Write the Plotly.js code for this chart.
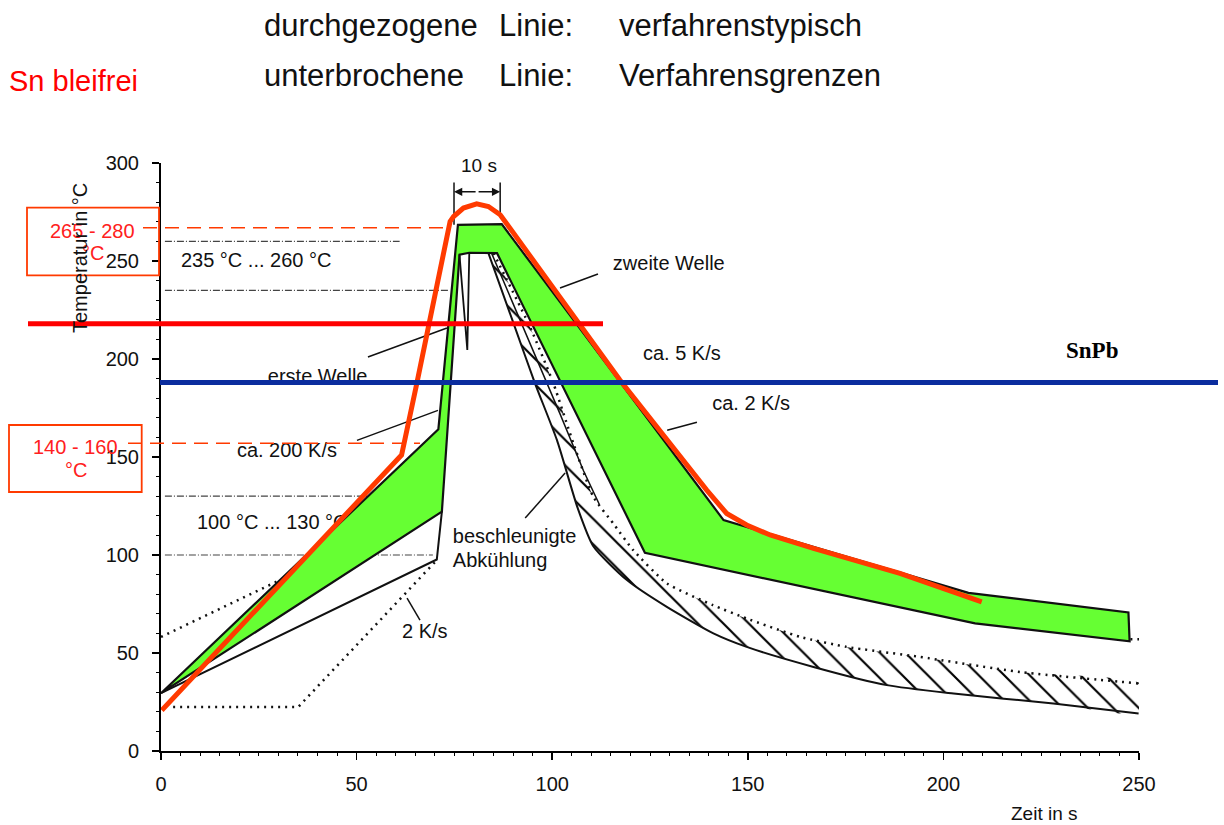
<!DOCTYPE html>
<html><head><meta charset="utf-8">
<script src="https://cdn.plot.ly/plotly-3.0.1.min.js"></script>
<style>html,body{margin:0;padding:0;background:#fff}</style>
</head><body><div id="chart" style="width:1224px;height:825px"></div>
<script>
// ---------------- data (time in s, temperature in °C) ----------------
const xTickStep = 50, yTickStep = 50;

// Sn bleifrei (red) measured profile
const snTime = [0.2, 61.5, 65.4, 68.8, 72.2, 73.9, 74.8, 77.3, 80.7, 83.7, 86.7, 117.3, 139.5, 144.6, 149.7, 155.7, 166.8, 188.9, 209.8];
const snTemp = [20.8, 151, 187.6, 221.7, 255.7, 270.2, 272.7, 277, 279.2, 277.8, 273.6, 189.3, 133.1, 121.2, 115.3, 110.2, 103.4, 90.6, 76.1];

// green process window (closed outline)
const bandTime = [0, 70.9, 75.9, 87.1, 143.8, 206.4, 247.3, 247.6, 208.1, 123.7, 85.9, 78.8, 76.3, 71.8, 0];
const bandTemp = [29.5, 164.1, 268.4, 268.8, 117.8, 80.7, 70.7, 56.0, 65.1, 101.1, 254.0, 254.2, 253.2, 122.1, 29.5];

// first-wave spike
const spikeTime = [76.3, 78.3, 78.8];
const spikeTemp = [253.2, 204.6, 254.2];

// lower heating limit (solid)
const lowHeatTime = [0, 70.5, 71.8];
const lowHeatTemp = [29.5, 97.7, 122.1];

// preheat limits (dotted)
const upPreTime = [0, 30.4];
const upPreTemp = [58.2, 87.2];
const lowPreTime = [3.1, 35.1, 70.5];
const lowPreTemp = [22.5, 22.5, 97.4];
const tailTime = [247.8, 250.8];
const tailTemp = [57, 57];

// accelerated cooling (beschleunigte Abkühlung)
const accUpTime = [85, 94.3, 100.3, 105.4, 110.5, 115.6, 120.7, 129.3, 141.1, 149.7, 163.4, 175.3, 194, 219.6, 250.3];
const accUpTemp = [254, 216.5, 187.6, 157, 129.7, 116.1, 102.5, 85.5, 74.4, 67.6, 58.2, 53.1, 48, 40.3, 34.4];
const accLowTime = [83.7, 90.1, 95.6, 101.2, 106.5, 110.5, 119.1, 129.3, 141.2, 149.7, 166.8, 185.5, 202.6, 228.1, 249.9];
const accLowTemp = [254, 218.3, 187.6, 158.7, 124, 104.5, 87.2, 73.5, 60, 53.1, 42.9, 33.6, 29.3, 24.2, 19.1];
const accMidTime = [84.5, 95, 102, 108, 112];
const accMidTemp = [254, 205, 172, 143, 126];

// reference levels (thin dash-dot) and their end times
const refLevels = [260, 235, 130, 100];
const refEnds = [61, 73.4, 55, 69.5];

// melting lines and limit lines
const meltSnAgCu = 218;   // red
const meltSnPb = 188;     // blue
const limitTemps = [267, 157]; // dashed orange

// 10 s marker
const markTime = [74.9, 86.7];
const markTempLow = [268.5, 273.5];
const markTempTop = 290;
const markArrowTemp = 285.3;

// leader lines (segments separated by null)
const leadTime = [111.7, 102, null, 137, 129.4, null, 52.9, 73.1, null, 50.1, 70.8, null, 93.1, 103.3, null, 66.2, 62.9];
const leadTemp = [243.4, 236.2, null, 167.7, 163.6, null, 201, 215.8, null, 158.5, 173.8, null, 118.9, 141.8, null, 66.8, 78];

// in-plot labels
const labelText = ['235 °C ... 260 °C', 'zweite Welle', 'ca. 5 K/s', 'ca. 2 K/s', 'erste Welle', 'ca. 200 K/s', '100 °C ... 130 °C', 'beschleunigte', 'Abkühlung', '2 K/s'];
const labelTime = [5.1, 115.5, 123.2, 140.9, 27.3, 19.4, 9.2, 74.6, 74.6, 61.6];
const labelTemp = [249.6, 247.8, 202, 176.5, 190.1, 152.7, 115.8, 108.5, 96.6, 60.1];

// ---------------- drawing ----------------
const FONT = 'Liberation Sans, Arial, Helvetica, sans-serif';
const INK = '#111';
const ORANGE = '#ff3a00';
const L = 161, R = 1139, T = 163, B = 751;
const px = v => (v - L) / (R - L);
const py = v => (B - v) / (B - T);

const hatchX = accUpTime.concat(accLowTime.slice().reverse());
const hatchY = accUpTemp.concat(accLowTemp.slice().reverse());

const refX = [], refY = [];
refLevels.forEach((lv, i) => { refX.push(1, refEnds[i], null); refY.push(lv, lv, null); });

const noHover = {hoverinfo: 'skip', showlegend: false};
const traces = [
  Object.assign({x: refX, y: refY, mode: 'lines', line: {color: '#444', width: 1.2, dash: '7px,2px,1px,2px'}}, noHover),
  Object.assign({x: labelTime, y: labelTemp, text: labelText, mode: 'text', textposition: 'middle right',
    textfont: {family: FONT, size: 20, color: INK}, cliponaxis: false}, noHover),
  Object.assign({x: upPreTime, y: upPreTemp, mode: 'lines', line: {color: INK, width: 2.5, dash: '2px,5px'}}, noHover),
  Object.assign({x: lowPreTime, y: lowPreTemp, mode: 'lines', line: {color: INK, width: 2.5, dash: '2px,5px'}}, noHover),
  Object.assign({x: tailTime, y: tailTemp, mode: 'lines', line: {color: INK, width: 2.5, dash: '2px,5px'}}, noHover),
  Object.assign({x: lowHeatTime, y: lowHeatTemp, mode: 'lines', line: {color: INK, width: 2}}, noHover),
  Object.assign({x: hatchX, y: hatchY, mode: 'lines', line: {width: 0, shape: 'spline', smoothing: 0.5}, fill: 'toself',
    fillcolor: 'rgba(255,255,255,0)', fillpattern: {shape: '\\', size: 18, solidity: 0.12, fgcolor: '#000', bgcolor: 'rgba(255,255,255,0)'}}, noHover),
  Object.assign({x: accLowTime, y: accLowTemp, mode: 'lines', line: {color: INK, width: 2, shape: 'spline', smoothing: 0.6}}, noHover),
  Object.assign({x: accMidTime, y: accMidTemp, mode: 'lines', line: {color: INK, width: 1.5}}, noHover),
  Object.assign({x: accUpTime, y: accUpTemp, mode: 'lines', line: {color: INK, width: 2.5, dash: '2px,5px', shape: 'spline', smoothing: 0.5}}, noHover),
  Object.assign({x: bandTime, y: bandTemp, mode: 'lines', fill: 'toself', fillcolor: '#66ff33', line: {color: INK, width: 2.2}}, noHover),
  Object.assign({x: spikeTime, y: spikeTemp, mode: 'lines', line: {color: INK, width: 1.8}}, noHover),
  Object.assign({x: [markTime[0], markTime[0], null, markTime[1], markTime[1]], y: [markTempLow[0], markTempTop, null, markTempLow[1], markTempTop],
    mode: 'lines', line: {color: INK, width: 1.5}}, noHover),
  Object.assign({x: leadTime, y: leadTemp, mode: 'lines', line: {color: INK, width: 1.5}, connectgaps: false}, noHover),
  Object.assign({x: snTime, y: snTemp, mode: 'lines', line: {color: ORANGE, width: 5}}, noHover)
];

const shapes = [
  {type: 'line', xref: 'paper', yref: 'y', x0: px(160), x1: px(1218), y0: meltSnPb, y1: meltSnPb, line: {color: '#0b2d9e', width: 5}, layer: 'above'},
  {type: 'line', xref: 'paper', yref: 'y', x0: px(28), x1: px(603), y0: meltSnAgCu, y1: meltSnAgCu, line: {color: '#ff0000', width: 5}, layer: 'above'},
  {type: 'line', xref: 'paper', yref: 'y', x0: px(143), x1: px(448), y0: limitTemps[0], y1: limitTemps[0], line: {color: ORANGE, width: 1.5, dash: '14px,8px'}, layer: 'above'},
  {type: 'line', xref: 'paper', yref: 'y', x0: px(128), x1: px(420), y0: limitTemps[1], y1: limitTemps[1], line: {color: ORANGE, width: 1.5, dash: '14px,8px'}, layer: 'above'},
  {type: 'rect', xref: 'paper', yref: 'paper', x0: px(27), x1: px(159), y0: py(275.3), y1: py(207.7), line: {color: ORANGE, width: 1.8}, layer: 'above'},
  {type: 'rect', xref: 'paper', yref: 'paper', x0: px(9), x1: px(141.7), y0: py(492), y1: py(425), line: {color: ORANGE, width: 1.8}, layer: 'above'}
];

function txt(text, x, y, size, opts) {
  return Object.assign({text: text, x: px(x), y: py(y), xref: 'paper', yref: 'paper', showarrow: false,
    xanchor: 'left', yanchor: 'middle', font: {family: FONT, size: size, color: INK}}, opts || {});
}
const annotations = [
  txt('Sn bleifrei', 7, 81, 29, {font: {family: FONT, size: 29, color: '#ff0000'}}),
  txt('durchgezogene', 262, 26, 31),
  txt('Linie:', 497, 26, 31),
  txt('verfahrenstypisch', 617, 26, 31),
  txt('unterbrochene', 262, 76, 31),
  txt('Linie:', 497, 76, 31),
  txt('Verfahrensgrenzen', 617, 76, 31),
  txt('265 - 280', 92.5, 231, 20, {xanchor: 'center', font: {family: FONT, size: 20, color: '#ff2020'}}),
  txt('°C', 93, 253, 20, {xanchor: 'center', font: {family: FONT, size: 20, color: '#ff2020'}}),
  txt('140 - 160', 75, 447, 20, {xanchor: 'center', font: {family: FONT, size: 20, color: '#ff2020'}}),
  txt('°C', 75.5, 470, 20, {xanchor: 'center', font: {family: FONT, size: 20, color: '#ff2020'}}),
  txt('Temperatur in °C', 80, 258, 20, {xanchor: 'center', textangle: -90}),
  txt('Zeit in s', 1044, 813, 19, {xanchor: 'center'}),
  txt('<b>SnPb</b>', 1092, 350, 23, {xanchor: 'center', font: {family: 'Liberation Serif, Times New Roman, serif', size: 23, color: '#000'}}),
  txt('10 s', 479, 165, 19, {xanchor: 'center'}),
  {x: markTime[0], y: markArrowTemp, ax: (markTime[0] + markTime[1]) / 2, ay: markArrowTemp, xref: 'x', yref: 'y', axref: 'x', ayref: 'y',
    text: '', showarrow: true, arrowhead: 2, arrowsize: 1.1, arrowwidth: 1.5, arrowcolor: INK, standoff: 0, startstandoff: 0},
  {x: markTime[1], y: markArrowTemp, ax: (markTime[0] + markTime[1]) / 2, ay: markArrowTemp, xref: 'x', yref: 'y', axref: 'x', ayref: 'y',
    text: '', showarrow: true, arrowhead: 2, arrowsize: 1.1, arrowwidth: 1.5, arrowcolor: INK, standoff: 0, startstandoff: 0}
];

const axisCommon = {
  showline: true, linecolor: '#000', linewidth: 2, ticks: 'outside', ticklen: 7, tickwidth: 1.5, tickcolor: '#000',
  showgrid: false, zeroline: false, fixedrange: true, tickmode: 'linear', tick0: 0,
  tickfont: {family: FONT, size: 20, color: INK}
};
const layout = {
  width: 1224, height: 825,
  margin: {l: L, r: 1224 - R, t: T, b: 825 - B, pad: 0},
  paper_bgcolor: '#fff', plot_bgcolor: '#fff', showlegend: false,
  font: {family: FONT, color: INK},
  xaxis: Object.assign({}, axisCommon, {range: [0, 250], dtick: xTickStep, ticklabelstandoff: 7,
    minor: {dtick: 5, ticks: 'outside', ticklen: 3, tickwidth: 1, tickcolor: '#000', showgrid: false}}),
  yaxis: Object.assign({}, axisCommon, {range: [0, 300], dtick: yTickStep, ticklabelstandoff: 9,
    minor: {dtick: 10, ticks: 'outside', ticklen: 3, tickwidth: 1, tickcolor: '#000', showgrid: false}}),
  shapes: shapes,
  annotations: annotations
};

Plotly.newPlot('chart', traces, layout, {displayModeBar: false, staticPlot: true});
</script></body></html>
